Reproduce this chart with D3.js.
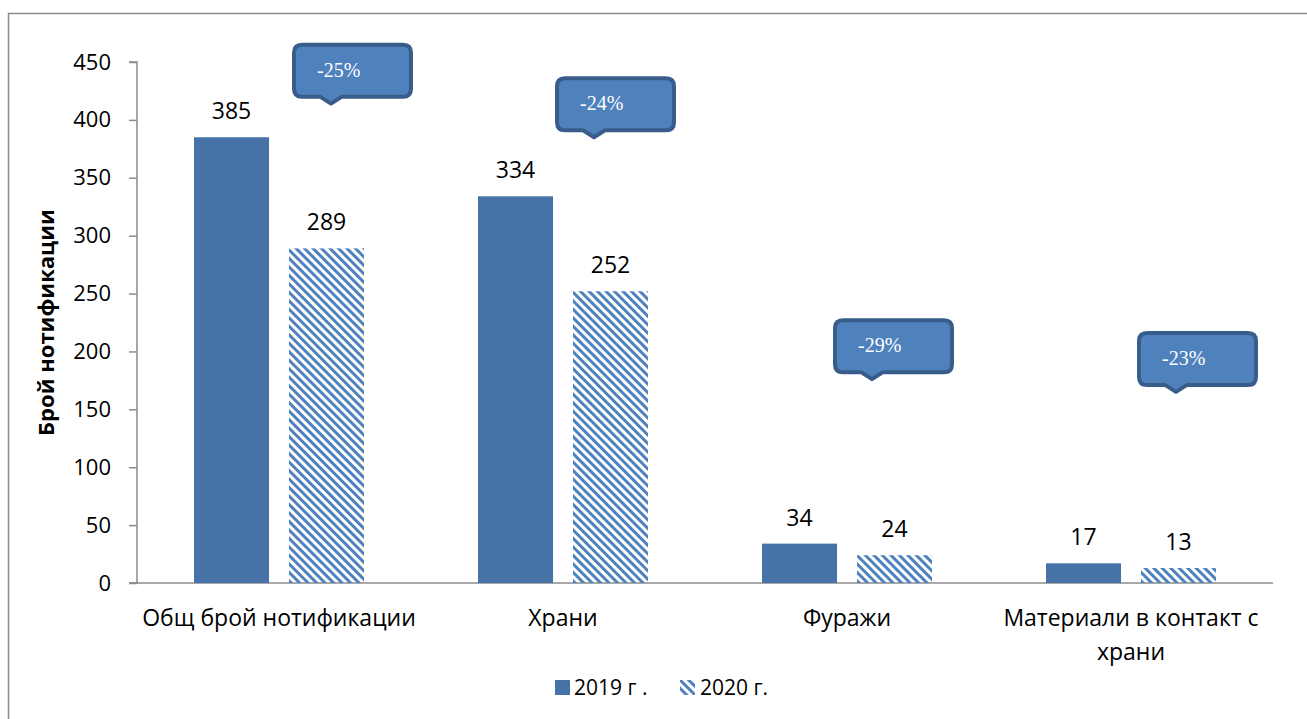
<!DOCTYPE html>
<html>
<head>
<meta charset="utf-8">
<script src="https://cdnjs.cloudflare.com/ajax/libs/d3/7.8.5/d3.min.js"></script>
<style>
    body { margin: 0; background: #fff; }
    svg text { font-family: "Open Sans", "Noto Sans", sans-serif; }
</style>
</head>
<body>
<div id="chart"></div>
<script>
// chart data
const categories = ["Общ брой нотификации", "Храни", "Фуражи", "Материали в контакт с храни"];
const series = ["2019 г .", "2020 г."];
const values2019 = [385, 334, 34, 17];
const values2020 = [289, 252, 24, 13];
const changes = ["-25%", "-24%", "-29%", "-23%"];
const yTicks = [0, 50, 100, 150, 200, 250, 300, 350, 400, 450];

const width = 1307, height = 719;
const margin = {top: 62, left: 137, right: 34, bottom: 136};

const svg = d3.select("#chart").append("svg")
    .attr("width", width)
    .attr("height", height);

// hatch for 2020
const defs = svg.append("defs");
defs.append("pattern")
    .attr("id", "hatch")
    .attr("patternUnits", "userSpaceOnUse")
    .attr("width", 6)
    .attr("height", 6)
    .attr("patternTransform", "rotate(45)")
    .append("rect")
    .attr("x", 0).attr("y", 0)
    .attr("width", 6).attr("height", 3)
    .attr("fill", "#4f81bd");

// outer frame
svg.append("path")
    .attr("d", `M8.5,${height + 5} L8.5,13.5 L${width + 5},13.5`)
    .attr("fill", "none")
    .attr("stroke", "#8c8c8c")
    .attr("stroke-width", 1.5);

const x0 = d3.scaleBand()
    .domain(categories)
    .range([margin.left, width - margin.right]);

const x1 = d3.scaleBand()
    .domain(series)
    .range([0, 170])
    .paddingInner(0.21);

const y = d3.scaleLinear()
    .domain([0, 450])
    .range([height - margin.bottom, margin.top]);

// y axis
const yAxis = svg.append("g")
    .attr("transform", `translate(${margin.left},0)`)
    .call(d3.axisLeft(y).tickValues(yTicks).tickSize(8).tickPadding(18));
yAxis.select(".domain").attr("stroke", "#8c8c8c").attr("stroke-width", 1.5)
    .attr("d", `M-8,${y(450)}H0V${y(0)}H-8`);
yAxis.selectAll(".tick line").attr("stroke", "#8c8c8c").attr("stroke-width", 1.5);
yAxis.selectAll(".tick text").attr("font-size", 22).attr("fill", "#000")
    .attr("font-family", "'Open Sans', sans-serif");

// x axis line
svg.append("line")
    .attr("x1", margin.left - 8).attr("x2", width - margin.right)
    .attr("y1", y(0)).attr("y2", y(0))
    .attr("stroke", "#8c8c8c")
    .attr("stroke-width", 1.5);

// y title
svg.append("text")
    .attr("transform", `translate(54, ${(y(0) + y(450)) / 2}) rotate(-90)`)
    .attr("text-anchor", "middle")
    .attr("font-size", 22)
    .attr("font-weight", "bold")
    .text("Брой нотификации");

// bars
const groups = svg.selectAll(".grp")
    .data(categories)
    .enter().append("g")
    .attr("class", "grp")
    .attr("transform", d => `translate(${x0(d) + x0.bandwidth() / 2 - 85},0)`);

groups.each(function (c, i) {
    const g = d3.select(this);
    const vals = [values2019[i], values2020[i]];
    series.forEach((s, j) => {
        g.append("rect")
            .attr("x", x1(s))
            .attr("y", y(vals[j]))
            .attr("width", x1.bandwidth())
            .attr("height", y(0) - y(vals[j]))
            .attr("fill", j === 0 ? "#4672a8" : "url(#hatch)");
        g.append("text")
            .attr("x", x1(s) + x1.bandwidth() / 2)
            .attr("y", y(vals[j]) - 18)
            .attr("text-anchor", "middle")
            .attr("font-size", 23)
            .text(vals[j]);
    });
});

// category labels with wrap
svg.selectAll(".cat")
    .data(categories)
    .enter().append("text")
    .attr("class", "cat")
    .attr("text-anchor", "middle")
    .attr("font-size", 23)
    .each(function (d) {
        const t = d3.select(this);
        const cx = x0(d) + x0.bandwidth() / 2;
        const lines = d.length > 22 ? ["Материали в контакт с", "храни"] : [d];
        lines.forEach((ln, k) => {
            t.append("tspan").attr("x", cx).attr("y", y(0) + 43 + k * 34).text(ln);
        });
    });

// callouts (box left offset from band centre, box top value)
const calloutPos = [[15, 465], [-6, 436], [-12, 227], [8, 216]];
changes.forEach((c, i) => {
    const bx = x0(categories[i]) + x0.bandwidth() / 2 + calloutPos[i][0];
    const by = y(calloutPos[i][1]);
    const w = 117, h = 52, px = bx + 37;
    const d = `M${bx + 8},${by} H${bx + w - 8} Q${bx + w},${by} ${bx + w},${by + 8}` +
        ` V${by + h - 8} Q${bx + w},${by + h} ${bx + w - 8},${by + h}` +
        ` H${px + 11} L${px},${by + h + 7} L${px - 11},${by + h}` +
        ` H${bx + 8} Q${bx},${by + h} ${bx},${by + h - 8} V${by + 8} Q${bx},${by} ${bx + 8},${by} Z`;
    svg.append("path")
        .attr("d", d)
        .attr("fill", "#4f81bd")
        .attr("stroke", "#385d8a")
        .attr("stroke-width", 4)
        .attr("stroke-linejoin", "round");
    svg.append("text")
        .attr("x", bx + 23)
        .attr("y", by + 32)
        .style("font-family", "'Liberation Serif', 'DejaVu Serif', serif")
        .attr("font-size", 20)
        .attr("fill", "#fff")
        .text(c);
});

// legend
const legend = svg.append("g").attr("transform", `translate(555, 680)`);
legend.append("rect").attr("width", 15).attr("height", 15).attr("fill", "#4672a8");
legend.append("text").attr("x", 19).attr("y", 15).attr("font-size", 21).text(series[0]);
legend.append("rect").attr("x", 125).attr("width", 15).attr("height", 15).attr("fill", "url(#hatch)");
legend.append("text").attr("x", 145).attr("y", 15).attr("font-size", 21).text(series[1]);
</script>
</body>
</html>
